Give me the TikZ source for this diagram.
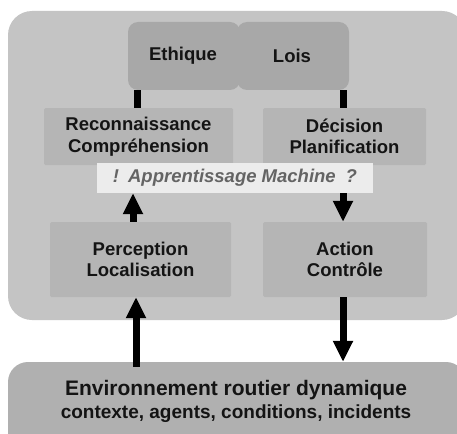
\documentclass[tikz,border=0pt]{standalone}
\usepackage{fontspec}
\setmainfont{Liberation Sans}
\usetikzlibrary{arrows.meta}
\definecolor{outerbg}{RGB}{196,196,196}
\definecolor{topbox}{RGB}{168,168,168}
\definecolor{midbox}{RGB}{181,181,181}
\definecolor{envbg}{RGB}{176,176,176}
\definecolor{bandbg}{RGB}{236,236,236}
\definecolor{bandtxt}{RGB}{100,100,100}
\definecolor{txt}{RGB}{20,20,20}
\tikzset{
  topnode/.style={fill=topbox, rounded corners=10pt, minimum width=112pt, minimum height=68pt, inner sep=0pt,
    font=\fontsize{18.5}{21}\selectfont\bfseries, text=txt},
  midnode/.style={fill=midbox, rounded corners=1.5pt, minimum height=#1, inner sep=0pt, align=center,
    font=\fontsize{18.5}{21.5}\selectfont\bfseries, text=txt},
  conn/.style={line width=7pt, black},
  bigarrow/.style={line width=7pt, black, -{Triangle[width=19pt,length=21pt]}},
}
\begin{document}
\begin{tikzpicture}[x=1pt,y=-1pt]
\useasboundingbox (0,0) rectangle (457,433);
\fill[white] (0,0) rectangle (457,433);
% outer panel
\fill[outerbg, rounded corners=24pt] (8,11) rectangle (466,320);
% environment panel
\node[fill=envbg, rounded corners=20pt, minimum width=458pt, minimum height=90pt, inner sep=0pt] (envbox) at (237,407) {};
\node[align=center, text=txt, inner sep=0pt, font=\fontsize{19}{23}\selectfont\bfseries] (env) at (236,401.5)
  {{\fontsize{21}{23}\selectfont Environnement routier dynamique}\\
   contexte, agents, conditions, incidents};
% top boxes
\node[topnode] (lois) at (293,56) {\hspace*{-2pt}Lois};
\node[topnode] (eth) at (184,56) {\hspace*{-2pt}Ethique};
% middle boxes
\node[midnode=57pt, minimum width=189pt] (rec) at (138.5,136.5) {Reconnaissance\\Compréhension};
\node[midnode=57pt, minimum width=163pt] (dec) at (344.5,136.5) {Décision\\Planification};
\node[midnode=75pt, minimum width=181pt] (perc) at (140.5,259.5) {Perception\\Localisation};
\node[midnode=75pt, minimum width=164pt] (act) at (345,259.5) {Action\\Contrôle};
% band
\node[fill=bandbg, minimum width=276pt, minimum height=30pt, inner sep=0pt, text=bandtxt,
  font=\fontsize{18.5}{21}\selectfont\bfseries\itshape] (band) at (235,178) {!\hspace{9pt}Apprentissage Machine\hspace{10pt}?};
% x positions
\coordinate (xa) at (137,0);
\coordinate (xb) at (133,0);
\coordinate (xc) at (136,0);
\coordinate (xr) at (343,0);
% connectors
\draw[conn] (eth.south -| xa) -- (rec.north -| xa);
\draw[conn] (lois.south -| xr) -- (dec.north -| xr);
\draw[bigarrow] (perc.north -| xb) -- (band.south -| xb);
\draw[bigarrow] (band.south -| xr) -- (act.north -| xr);
\draw[bigarrow] ([yshift=-5pt]envbox.north -| xc) -- (perc.south -| xc);
\draw[bigarrow] (act.south -| xr) -- (envbox.north -| xr);
\end{tikzpicture}
\end{document}
